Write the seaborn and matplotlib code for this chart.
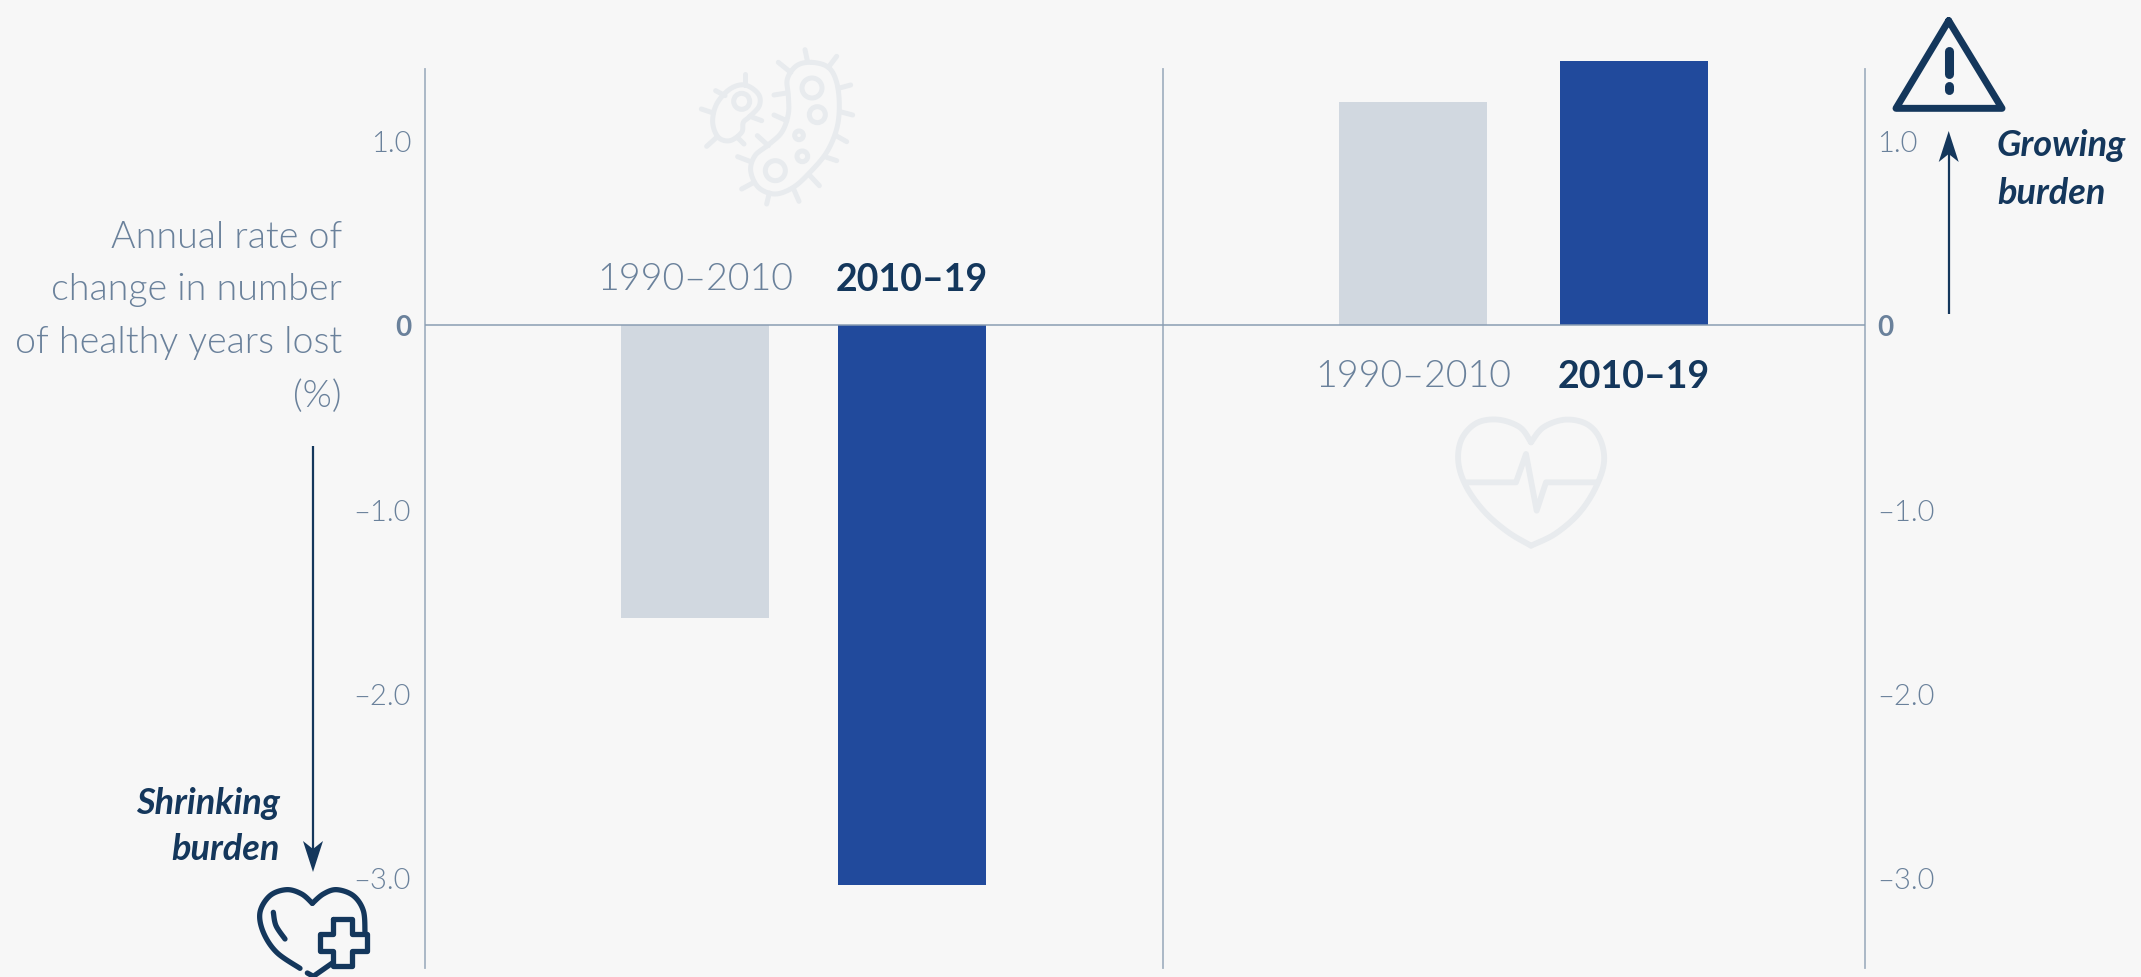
import numpy as np
import pandas as pd
import seaborn as sns
import matplotlib
matplotlib.use("Agg")
import matplotlib.pyplot as plt
from matplotlib import font_manager as fm
from matplotlib.patches import Polygon, Circle

# ---------- data ----------
periods = ["1990–2010", "2010–19"]
infectious_change = [-1.59, -3.04]
chronic_change = [1.21, 1.43]
tick_values = [1.0, 0, -1.0, -2.0, -3.0]
tick_labels = ["1.0", "0", "–1.0", "–2.0", "–3.0"]
y_axis_label = "Annual rate of\nchange in number\nof healthy years lost\n(%)"

BG = "#f7f7f7"; GREY = "#d1d8e0"; BLUE = "#214a9c"; DARK = "#14375c"
TICK = "#6a819b"; SPINE = "#a5b3c2"; ZERO = "#8a9db3"; ICON = "#e8ebee"
W, H = 2141, 978
sns.set_theme(style="white")
plt.rcParams["font.family"] = ["Lato", "DejaVu Sans"]

light_files = [f.fname for f in fm.fontManager.ttflist
               if f.name.startswith("Lato") and f.fname.endswith("Lato-Light.ttf")]


def light(size):
    if light_files:
        return fm.FontProperties(fname=light_files[0], size=size)
    return fm.FontProperties(family="Lato", weight="normal", size=size)


fig = plt.figure(figsize=(W / 100, H / 100), dpi=100, facecolor=BG)
ZERO_PX = 326; UNIT = 184.3
ylim = (-(H - ZERO_PX) / UNIT, ZERO_PX / UNIT)
spine_bounds = (-(969 - ZERO_PX) / UNIT, (ZERO_PX - 70) / UNIT)


def panel(x0, x1, centre, step, values):
    ax = fig.add_axes([x0 / W, 0, (x1 - x0) / W, 1], facecolor="none")
    df = pd.DataFrame({"period": periods, "change": values})
    sns.barplot(df, x="period", y="change", hue="period", order=periods,
                palette=[GREY, BLUE], legend=False, dodge=False,
                width=148 / step, saturation=1, linewidth=0, ax=ax)
    ax.set_xlim((x0 - centre) / step, (x1 - centre) / step)
    ax.set_ylim(*ylim)
    ax.set_xticks([]); ax.set_xlabel(""); ax.set_ylabel("")
    for s in ("top", "right", "bottom", "left"):
        ax.spines[s].set_visible(False)
    ax.axhline(0, color=ZERO, lw=1.1, zorder=3)
    return ax


ax1 = panel(425, 1163, 695, 217, infectious_change)
ax2 = panel(1163, 1865, 1413, 221, chronic_change)

for ax, side in ((ax1, "left"), (ax2, "right")):
    ax.spines[side].set_visible(True)
    ax.spines[side].set_bounds(*spine_bounds)
    ax.spines[side].set_color(SPINE)
    ax.spines[side].set_linewidth(1.3)
    ax.yaxis.set_ticks_position(side)
    ax.set_yticks(tick_values, tick_labels)
    ax.tick_params(axis="y", length=0, pad=10 if side == "left" else 9,
                   labelsize=20, labelcolor=TICK)
    for lab, v in zip(ax.get_yticklabels(), tick_values):
        if v == 0:
            lab.set_fontweight("bold")
        else:
            lab.set_fontproperties(light(21))
ax1.spines["right"].set_visible(True)
ax1.spines["right"].set_bounds(*spine_bounds)
ax1.spines["right"].set_color(SPINE)
ax1.spines["right"].set_linewidth(1.3)

for ax, y in ((ax1, 0.25), (ax2, -0.275)):
    ax.text(0, y, periods[0], ha="center", va="center", color=TICK, fontproperties=light(27))
    ax.text(1, y, periods[1], ha="center", va="center", fontsize=27,
            color=DARK, fontweight="bold")

# ---------- overlay in pixel coordinates ----------
ov = fig.add_axes([0, 0, 1, 1], facecolor="none")
ov.set_xlim(0, W); ov.set_ylim(H, 0); ov.axis("off")

for y, s in zip([238, 290, 343, 397], y_axis_label.split("\n")):
    ov.text(342, y, s, ha="right", va="center", color=TICK, fontproperties=light(27))
for y, s in zip([803, 850], ["Shrinking", "burden"]):
    ov.text(280, y, s, ha="right", va="center", fontsize=26, color=DARK,
            fontweight="bold", fontstyle="italic")
for y, s in zip([145, 194], ["Growing", "burden"]):
    ov.text(1997, y, s, ha="left", va="center", fontsize=26, color=DARK,
            fontweight="bold", fontstyle="italic")


def arrow(x, y0, tip):
    d = 1 if tip > y0 else -1
    ov.plot([x, x], [y0, tip - d * 20], color=DARK, lw=1.6, solid_capstyle="butt")
    ov.add_patch(Polygon([(x, tip), (x - 10, tip - d * 31), (x, tip - d * 23), (x + 10, tip - d * 31)],
                         closed=True, fc=DARK, ec="none"))


arrow(1948.7, 315, 132)
arrow(313, 447, 873)


def smooth(pts, closed=False, n=16):
    p = np.array(pts, float)
    if closed:
        p = np.vstack([p[-1], p, p[0], p[1]])
    else:
        p = np.vstack([p[0], p, p[-1]])
    out = []
    for i in range(1, len(p) - 2):
        t = np.linspace(0, 1, n, endpoint=False)[:, None]
        a, b, c, d = p[i - 1], p[i], p[i + 1], p[i + 2]
        out.append(0.5 * (2 * b + (c - a) * t + (2 * a - 5 * b + 4 * c - d) * t ** 2 + (3 * b - a - 3 * c + d) * t ** 3))
    out = np.vstack(out + [p[-2][None]])
    return out


def crop(pts, ox, oy):
    return [(ox + x / 3, oy + y / 3) for x, y in pts]


def stroke(pts, ox, oy, color, lw, closed=False, curve=True):
    c = crop(pts, ox, oy)
    xy = smooth(c, closed) if curve else np.array(c)
    ov.plot(xy[:, 0], xy[:, 1], color=color, lw=lw, solid_capstyle="round",
            solid_joinstyle="round", clip_on=True)


def ring(x, y, r, ox, oy, color, lw):
    ov.add_patch(Circle((ox + x / 3, oy + y / 3), r / 3, fc="none", ec=color, lw=lw))


# bacteria icon
OX, OY = 680, 40
stroke([(395, 70), (445, 85), (470, 130), (478, 200), (470, 270), (440, 340), (390, 400), (340, 445),
        (285, 465), (235, 445), (212, 395), (225, 350), (262, 320), (305, 280), (325, 225), (325, 170),
        (322, 120), (350, 80)], OX, OY, ICON, 3.6, closed=True)
for c in [(396, 147, 30), (412, 227, 24), (357, 289, 13), (367, 352, 16), (286, 395, 30), (185, 187, 24)]:
    ring(*c, OX, OY, ICON, 3.6)
stroke([(195, 138), (235, 165), (238, 200), (210, 232), (190, 250), (185, 280), (150, 305), (115, 295),
        (98, 250), (110, 195), (150, 150)], OX, OY, ICON, 3.6, closed=True)
for seg in [[(375, 32), (382, 65)], [(470, 52), (445, 85)], [(295, 70), (332, 100)], [(282, 168), (320, 162)],
            [(282, 228), (320, 245)], [(232, 290), (265, 320)], [(173, 353), (212, 368)], [(185, 450), (222, 430)],
            [(260, 495), (268, 462)], [(357, 487), (340, 448)], [(418, 440), (390, 410)], [(470, 365), (440, 355)],
            [(500, 308), (468, 290)], [(518, 228), (480, 218)], [(512, 138), (475, 148)], [(194, 105), (194, 138)],
            [(107, 155), (135, 170)], [(64, 210), (100, 222)], [(80, 322), (110, 295)], [(192, 315), (172, 295)],
            [(245, 245), (210, 232)]]:
    stroke(seg, OX, OY, ICON, 3.6, curve=False)

# pulse heart icon
OX, OY = 1430, 400
stroke([(303, 130), (270, 85), (205, 62), (140, 72), (95, 120), (85, 190), (110, 265), (165, 340), (235, 400), (303, 440)],
       OX, OY, ICON, 4.2)
stroke([(303, 440), (375, 405), (445, 345), (495, 270), (522, 190), (510, 120), (470, 75), (405, 62), (340, 85), (303, 130)],
       OX, OY, ICON, 4.2)
stroke([(105, 250), (258, 250), (288, 165), (320, 335), (348, 250), (500, 250)], OX, OY, ICON, 4.2, curve=False)

# heart with plus icon
OX, OY = 120, 770
stroke([(540, 598), (470, 550), (430, 490), (420, 430), (450, 380), (500, 362), (545, 375), (577, 403)], OX, OY, DARK, 3.8)
stroke([(577, 403), (610, 375), (650, 362), (700, 380), (730, 425), (735, 490)], OX, OY, DARK, 3.8)
stroke([(460, 430), (468, 470), (495, 510)], OX, OY, DARK, 3.8)
stroke([(562, 612), (580, 622), (640, 580)], OX, OY, DARK, 3.8, curve=False)
stroke([(640, 450), (695, 450), (695, 495), (740, 495), (740, 545), (695, 545), (695, 590), (640, 590),
        (640, 545), (600, 545), (600, 495), (640, 495), (640, 450)], OX, OY, DARK, 3.8, curve=False)

# warning icon
OX, OY = 1840, 0
stroke([(326, 65), (168, 328), (486, 328), (326, 65)], OX, OY, DARK, 5, curve=False)
stroke([(326, 155), (326, 225)], OX, OY, DARK, 6.5, curve=False)
stroke([(326, 262), (326, 274)], OX, OY, DARK, 6.5, curve=False)

fig.savefig("out.png", dpi=100, facecolor=BG)
